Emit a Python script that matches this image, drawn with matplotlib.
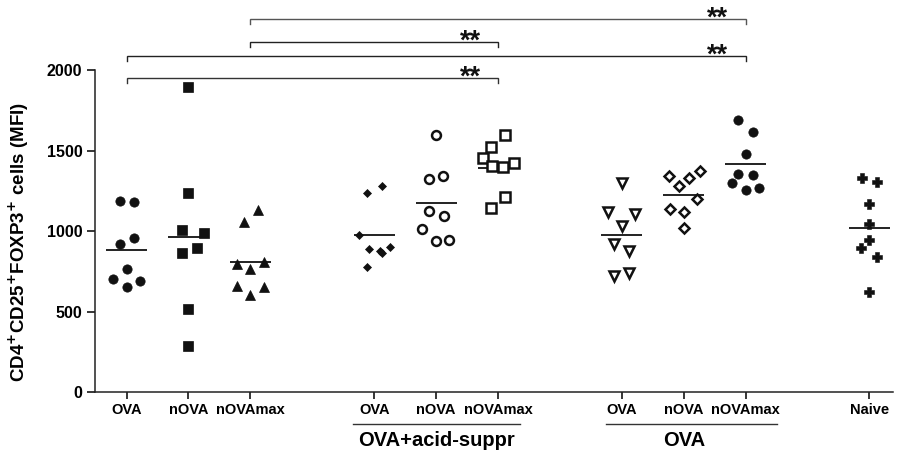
import matplotlib

matplotlib.use("Agg")
import matplotlib.pyplot as plt
import matplotlib.transforms as mtransforms

plt.rcParams["font.family"] = ["Liberation Sans", "DejaVu Sans"]
plt.rcParams["font.weight"] = "bold"
plt.rcParams["mathtext.default"] = "bf"

# x positions of the groups and their tick labels
positions = [1, 2, 3, 5, 6, 7, 9, 10, 11, 13]
tick_labels = ["OVA", "nOVA", "nOVAmax", "OVA", "nOVA", "nOVAmax",
               "OVA", "nOVA", "nOVAmax", "Naive"]

# MFI values per group
ova = [1187, 1179, 918, 959, 763, 703, 693, 653]
nova = [1896, 1235, 1007, 990, 866, 893, 515, 289]
novamax = [1131, 1055, 796, 763, 810, 662, 655, 604]
acid_ova = [1239, 1280, 976, 889, 879, 862, 903, 776]
acid_nova = [1597, 1322, 1342, 1125, 1094, 1011, 939, 945]
acid_novamax = [1597, 1520, 1452, 1404, 1400, 1421, 1214, 1146]
ova2_ova = [1301, 1117, 1106, 1032, 918, 879, 724, 742]
ova2_nova = [1342, 1282, 1332, 1373, 1199, 1139, 1121, 1017]
ova2_novamax = [1690, 1613, 1479, 1355, 1348, 1301, 1255, 1266]
naive = [1328, 1303, 1168, 1042, 945, 893, 841, 624]

# horizontal scatter offsets of the points
jit_ova = [-0.11, 0.12, -0.11, 0.12, 0.0, -0.22, 0.22, 0.0]
jit_nova = [0.0, 0.0, -0.11, 0.25, -0.11, 0.13, 0.0, 0.0]
jit_novamax = [0.12, -0.11, -0.22, 0.0, 0.22, -0.22, 0.22, 0.0]
jit_acid_ova = [-0.12, 0.12, -0.25, -0.08, 0.10, 0.12, 0.26, -0.12]
jit_acid_nova = [0.0, -0.11, 0.11, -0.11, 0.12, -0.22, 0.0, 0.21]
jit_acid_novamax = [0.11, -0.12, -0.24, -0.09, 0.08, 0.26, 0.12, -0.12]
jit_ova2_ova = [0.0, -0.22, 0.22, 0.0, -0.12, 0.12, -0.12, 0.12]
jit_ova2_nova = [-0.24, -0.08, 0.09, 0.26, 0.22, -0.22, 0.0, 0.0]
jit_ova2_novamax = [-0.13, 0.12, 0.0, -0.13, 0.12, -0.22, 0.0, 0.22]
jit_naive = [-0.12, 0.12, 0.0, 0.0, 0.0, -0.13, 0.12, 0.0]

groups = [ova, nova, novamax, acid_ova, acid_nova, acid_novamax,
          ova2_ova, ova2_nova, ova2_novamax, naive]
jitters = [jit_ova, jit_nova, jit_novamax, jit_acid_ova, jit_acid_nova,
           jit_acid_novamax, jit_ova2_ova, jit_ova2_nova, jit_ova2_novamax,
           jit_naive]

# marker, size, filled, edge width
styles = [
    ("o", 6.7, True, 0.5),
    ("s", 6.5, True, 0.5),
    ("^", 7.2, True, 0.5),
    ("D", 4.0, True, 0.5),
    ("o", 6.4, False, 1.8),
    ("s", 6.6, False, 1.8),
    ("v", 7.2, False, 1.8),
    ("D", 4.6, False, 1.8),
    ("o", 6.7, True, 0.5),
    ("P", 6.8, True, 0.4),
]

# significance brackets: (left pos, right pos, height)
brackets = [(3, 11, 2316), (3, 7, 2174), (1, 11, 2087), (1, 7, 1950)]
bracket_colors = ["#555555", "#222222", "#222222", "#333333"]

# lower group labels
group_names = ["OVA+acid-suppr", "OVA"]
group_centers = [6, 10]
group_spans = [(4.65, 7.35), (8.75, 11.5)]

fig = plt.figure(figsize=(9.02, 4.51), dpi=100)
ax = fig.add_axes([0.1053, 0.1302, 0.8847, 0.8698])

for pos, vals, jit, (mk, ms, filled, mew) in zip(positions, groups, jitters, styles):
    xs = [pos + j for j in jit]
    ax.plot(xs, vals, linestyle="none", marker=mk, markersize=ms,
            markerfacecolor="#111111" if filled else "white",
            markeredgecolor="#111111", markeredgewidth=mew, zorder=3)
    mean = sum(vals) / len(vals)
    ax.plot([pos - 0.33, pos + 0.33], [mean, mean], color="#111111",
            lw=1.3, zorder=2, solid_capstyle="butt")

drop = 32
for (x0, x1, h), c in zip(brackets, bracket_colors):
    ax.plot([x0, x0, x1, x1], [h - drop, h, h, h - drop], color=c, lw=1.0,
            clip_on=False, solid_joinstyle="miter")
    ax.text(x1 - 0.45, h - 42, "**", ha="center", va="baseline",
            fontsize=19.5, color="#111111")

trans = mtransforms.blended_transform_factory(ax.transData, ax.transAxes)
for name, cx, (s0, s1) in zip(group_names, group_centers, group_spans):
    ax.plot([s0, s1], [-0.081, -0.081], color="#333333", lw=1.0,
            transform=trans, clip_on=False)
    ax.text(cx, -0.124, name, ha="center", va="center", fontsize=14.5,
            transform=trans)

ax.set_xlim(0.49, 13.38)
ax.set_ylim(0, 2434)
ax.set_xticks(positions)
ax.set_xticklabels(tick_labels, fontsize=10.5)
ax.set_yticks([0, 500, 1000, 1500, 2000])
ax.tick_params(axis="y", length=6, width=1.1, pad=3, labelsize=11.5)
ax.tick_params(axis="x", length=5, width=1.1, pad=3)
ax.spines["top"].set_visible(False)
ax.spines["right"].set_visible(False)
ax.spines["left"].set_bounds(0, 2000)
for s in ("left", "bottom"):
    ax.spines[s].set_linewidth(1.1)
    ax.spines[s].set_color("#222222")

ax.set_ylabel(r"CD4$^{+}$CD25$^{+}$FOXP3$^{+}$ cells (MFI)", fontsize=13.5,
              fontweight="bold")
ax.yaxis.set_label_coords(-0.080, 0.384)

fig.savefig("out.png", dpi=100)
